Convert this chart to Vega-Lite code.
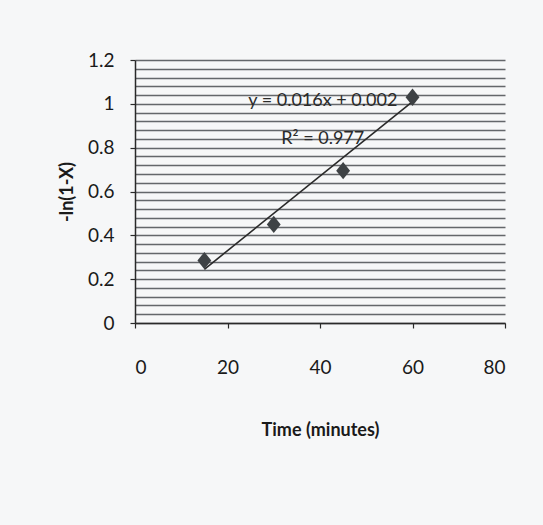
{
  "$schema": "https://vega.github.io/schema/vega-lite/v6.json",
  "autosize": {"type": "none"},
  "width": 370,
  "height": 263,
  "padding": {"left": 135, "top": 60, "right": 38, "bottom": 202},
  "background": "#f6f7f8",
  "config": {
    "view": {"stroke": null},
    "font": "Lato"
  },
  "datasets": {
    "points": [
      {"time": 15, "value": 0.285},
      {"time": 30, "value": 0.45},
      {"time": 45, "value": 0.695},
      {"time": 60, "value": 1.03}
    ],
    "trend": [
      {"time": 15, "value": 0.245},
      {"time": 60, "value": 1.01}
    ],
    "notes": [
      {"time": 40.6, "value": 1.012, "text": "y = 0.016x + 0.002"},
      {"time": 40.6, "value": 0.838, "text": "R² = 0.977"}
    ]
  },
  "resolve": {"axis": {"y": "independent"}},
  "layer": [
    {
      "data": {"name": "trend"},
      "mark": {"type": "line", "color": "#2a2a2a", "strokeWidth": 0, "opacity": 0},
      "encoding": {
        "x": {"field": "time", "type": "quantitative", "scale": {"domain": [0, 80], "nice": false}},
        "y": {
          "field": "value", "type": "quantitative",
          "scale": {"domain": [0, 1.2], "nice": false},
          "axis": {
            "orient": "right",
            "values": [0, 0.04, 0.08, 0.12, 0.16, 0.2, 0.24, 0.28, 0.32, 0.36, 0.4, 0.44, 0.48, 0.52, 0.56, 0.6, 0.64, 0.68, 0.72, 0.76, 0.8, 0.84, 0.88, 0.92, 0.96, 1, 1.04, 1.08, 1.12, 1.16, 1.2],
            "grid": true, "gridColor": "#4a4e52", "gridWidth": 1.5, "gridOpacity": 0.85,
            "labels": false, "ticks": false, "domain": false, "title": null
          }
        }
      }
    },
    {
      "data": {"name": "trend"},
      "mark": {"type": "line", "color": "#2a2a2a", "strokeWidth": 1.6},
      "encoding": {
        "x": {
          "field": "time", "type": "quantitative",
          "scale": {"domain": [0, 80], "nice": false},
          "axis": {
            "values": [0, 20, 40, 60, 80],
            "title": "Time (minutes)",
            "grid": false,
            "domainColor": "#2a2a2a", "domainWidth": 1.5,
            "tickColor": "#2a2a2a", "tickSize": 5, "tickWidth": 1.2,
            "labelFontSize": 19, "labelColor": "#1a1a1a", "labelPadding": 30,
            "titleFontSize": 18, "titleFontWeight": "bold", "titleColor": "#1a1a1a", "titlePadding": 44
          }
        },
        "y": {
          "field": "value", "type": "quantitative",
          "scale": {"domain": [0, 1.2], "nice": false},
          "axis": {
            "orient": "left",
            "values": [0, 0.2, 0.4, 0.6, 0.8, 1, 1.2],
            "labelExpr": "'' + round(datum.value*10)/10",
            "labelOverlap": false,
            "grid": false,
            "title": "-ln(1-X)",
            "domainColor": "#2a2a2a", "domainWidth": 1.5,
            "tickColor": "#2a2a2a", "tickSize": 5, "tickWidth": 1.2,
            "labelFontSize": 19, "labelColor": "#1a1a1a", "labelPadding": 16,
            "titleFontSize": 18, "titleFontWeight": "bold", "titleColor": "#1a1a1a", "titlePadding": 11
          }
        }
      }
    },
    {
      "data": {"name": "points"},
      "mark": {"type": "point", "shape": "M-0.8,0L0,-1L0.8,0L0,1Z", "filled": true, "size": 300, "color": "#3e4245", "opacity": 1},
      "encoding": {
        "x": {"field": "time", "type": "quantitative"},
        "y": {"field": "value", "type": "quantitative", "axis": null}
      }
    },
    {
      "data": {"name": "notes"},
      "mark": {"type": "text", "fontSize": 18, "color": "#2a2a2a", "align": "center", "baseline": "middle"},
      "encoding": {
        "x": {"field": "time", "type": "quantitative"},
        "y": {"field": "value", "type": "quantitative", "axis": null},
        "text": {"field": "text"}
      }
    }
  ]
}
